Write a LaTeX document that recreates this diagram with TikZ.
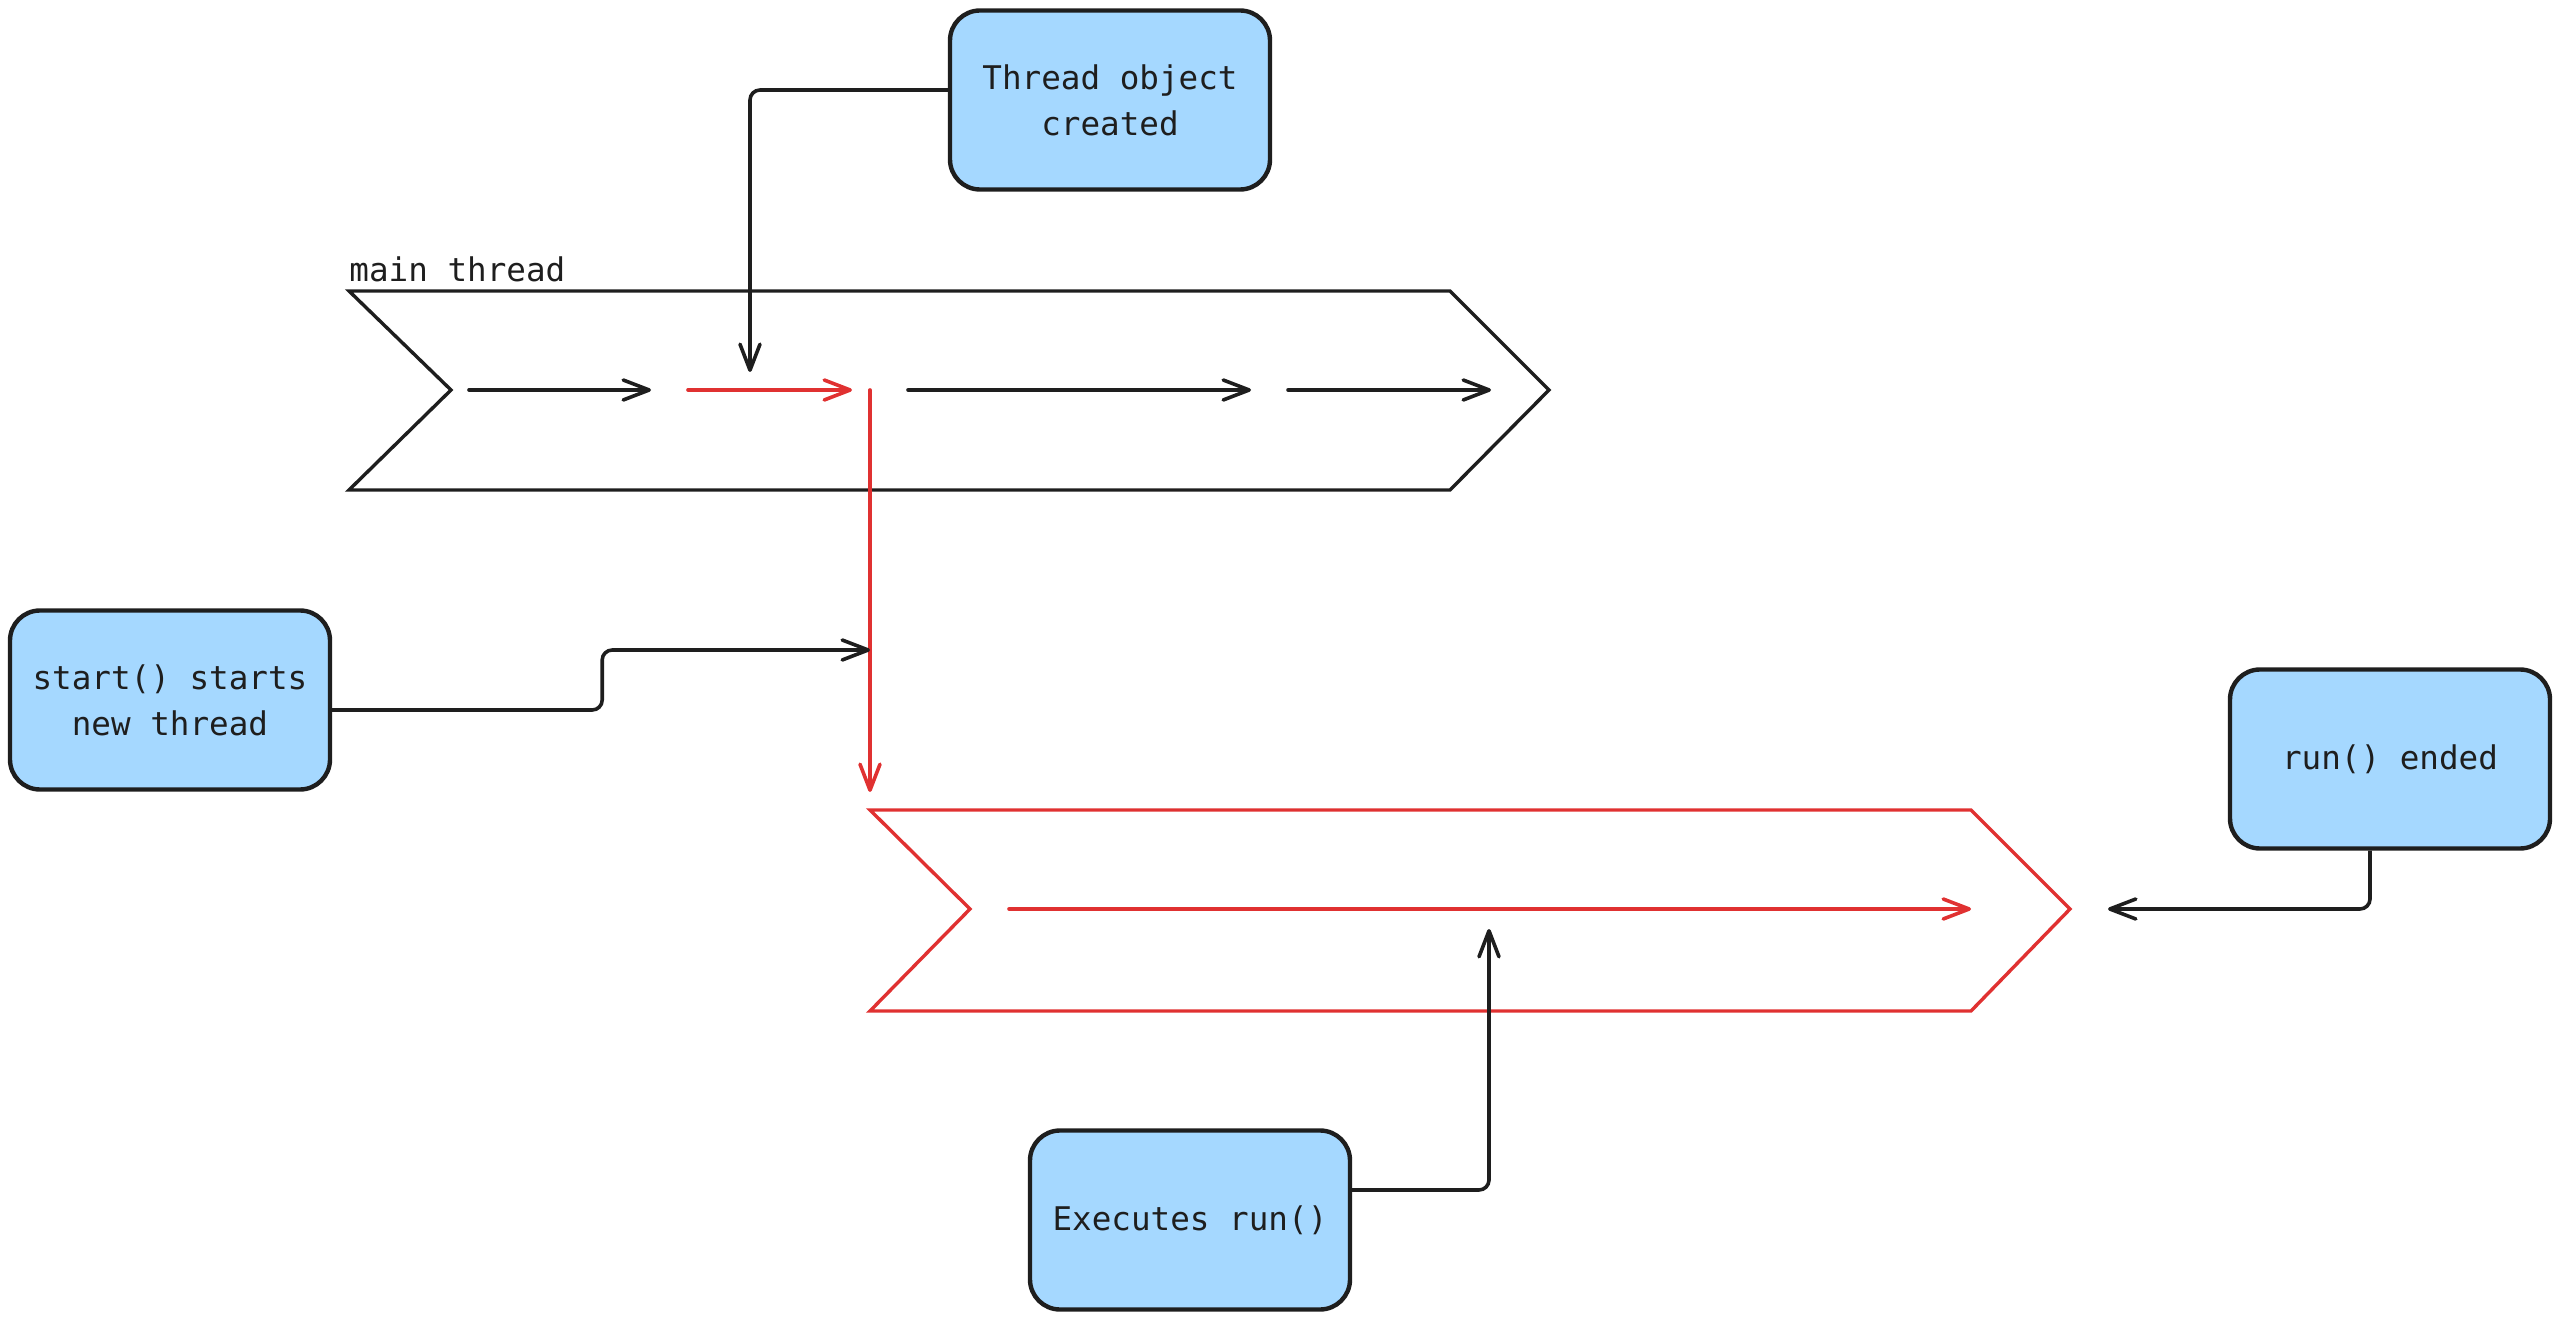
\documentclass[tikz,border=0pt]{standalone}
\usepackage{fontspec}
\setmonofont{DejaVu Sans Mono}
\usetikzlibrary{arrows.meta,calc}
\definecolor{ink}{HTML}{1E1E1E}
\definecolor{hot}{HTML}{E03131}
\definecolor{boxfill}{HTML}{A5D8FF}

\begin{document}
\begin{tikzpicture}[x=0.5pt,y=-0.5pt,
  tip/.style={-{Straight Barb[length=13pt,width=10pt,line cap=round,line join=round]}},
  box/.style={draw=ink, fill=boxfill, line width=2.2pt, rounded corners=15pt,
    minimum width=160pt, minimum height=89.5pt, align=center, text=ink,
    font=\ttfamily\fontsize{16.3}{23}\selectfont},
  conn/.style={draw=ink, line width=1.8pt, rounded corners=5pt, tip},
  flow/.style={line width=1.8pt, line cap=round, tip},
  lane/.style={line width=1.7pt, line join=miter}
]
\useasboundingbox (0,0) rectangle (2560,1320);

% lanes
\draw[lane, ink] (349,291) -- (1450,291) -- (1549,390) -- (1450,490) -- (349,490) -- (451,390) -- cycle;
\draw[lane, hot] (870,810) -- (1971,810) -- (2070,909) -- (1971,1011) -- (870,1011) -- (970,909) -- cycle;
\node[anchor=base west, inner sep=0pt, text=ink, font=\ttfamily\fontsize{16.3}{23}\selectfont]
  (mainlbl) at (349,282) {main thread};

% steps along the main thread
\coordinate (m1a) at (469,390);  \coordinate (m1b) at (651,390);
\coordinate (m2a) at (688,390);  \coordinate (m2b) at (852,390);
\coordinate (m3a) at (908,390);  \coordinate (m3b) at (1251,390);
\coordinate (m4a) at (1288,390); \coordinate (m4b) at (1491,390);
\coordinate (fork) at (870,390); \coordinate (forkEnd) at (870,792);
\coordinate (n1a) at (1009,909); \coordinate (n1b) at (1971,909);

\draw[flow, ink] (m1a) -- (m1b);
\draw[flow, hot] (m2a) -- (m2b);
\draw[flow, ink] (m3a) -- (m3b);
\draw[flow, ink] (m4a) -- (m4b);
\draw[flow, hot] (fork) -- (forkEnd);
\draw[flow, hot] (n1a) -- (n1b);

% labelled boxes
\node[box] (tobj)   at (1110,100)  {Thread object\\created};
\node[box] (start)  at (170,700)   {start() starts\\new thread};
\node[box] (runend) at (2390,759)  {run() ended};
\node[box] (exec)   at (1190,1220) {Executes run()};

% connectors from the boxes
\coordinate (tobjEnd)   at (750,372);
\coordinate (startEnd)  at (870,650);
\coordinate (runendEnd) at (2108,909);
\coordinate (execEnd)   at (1489,929);

\draw[conn] ($(tobj.west)+(0,-10)$) -| (tobjEnd);
\draw[conn] ($(start.east)+(0,10)$) -- ++(270,0) -- ++(0,-60) -- (startEnd);
\draw[conn] ($(runend.south)+(-20,0)$) |- (runendEnd);
\draw[conn] ($(exec.east)+(0,-30)$) -| (execEnd);
\end{tikzpicture}
\end{document}
